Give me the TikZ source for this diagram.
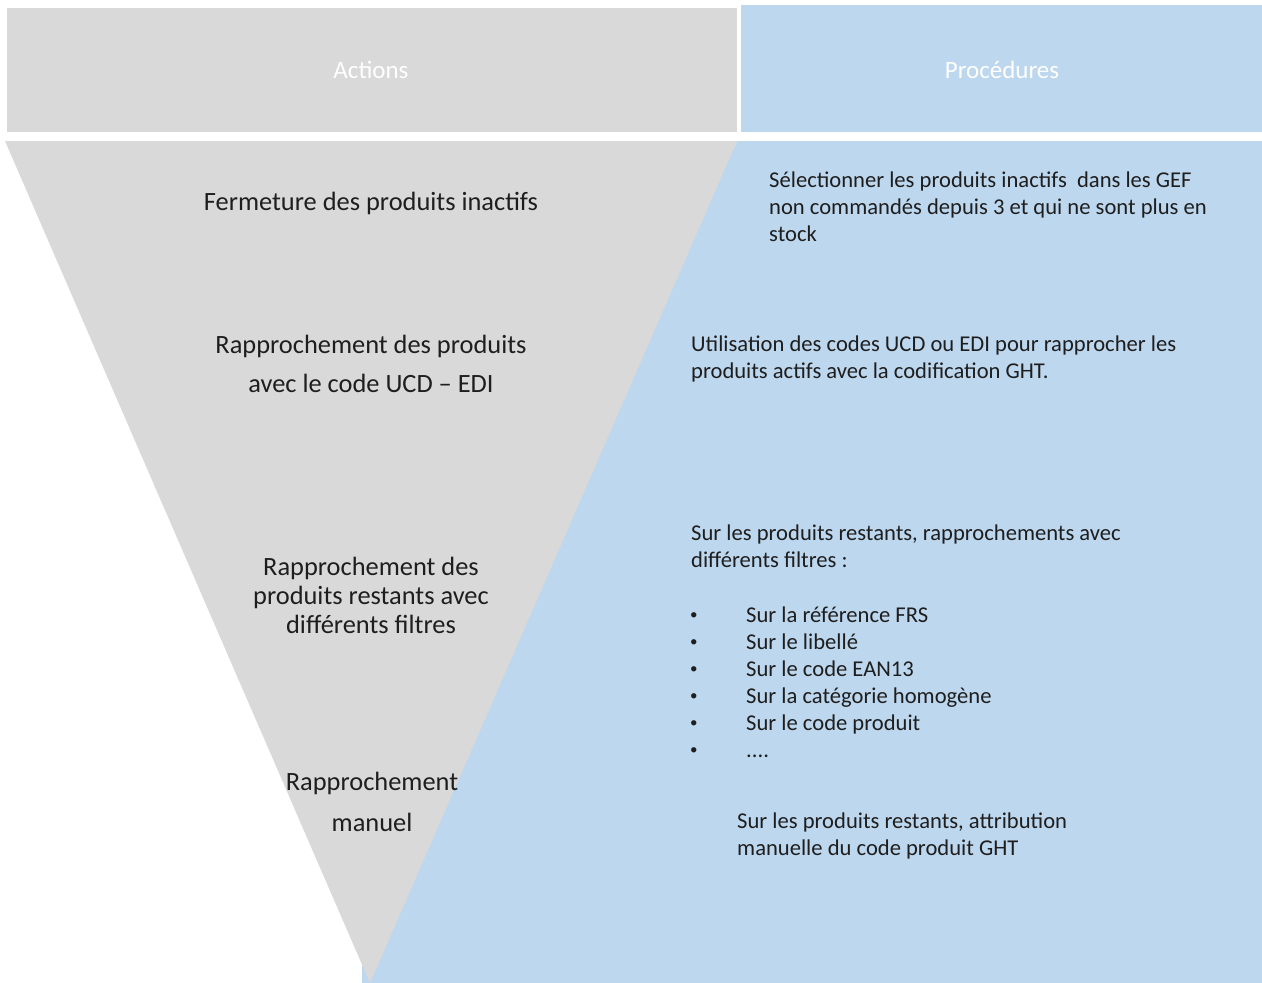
\documentclass[tikz,border=0pt]{standalone}
\usepackage{fontspec}
\setmainfont{Carlito}
\definecolor{actgray}{HTML}{D9D9D9}
\definecolor{procblue}{HTML}{BDD7EE}
\definecolor{ink}{HTML}{1E1E1E}
\newcommand{\puce}{\makebox[57pt][l]{\hspace{1pt}\raisebox{2.5pt}{\fontsize{15}{15}\selectfont•}}}
\begin{document}
\begin{tikzpicture}[x=1pt,y=-1pt]
	\tikzset{head/.style = {text=white,font=\fontsize{25}{30}\selectfont}}
	\tikzset{action/.style = {align=center,text=ink,font=\fontsize{26.4}{#1}\selectfont}}
	\tikzset{proc/.style = {align=left,anchor=north west,inner sep=0pt,text=ink,font=\fontsize{22.6}{27}\selectfont}}
	\useasboundingbox (0,0) rectangle (1262,983);
	\fill[actgray] (7,8) rectangle (737,132);
	\fill[procblue] (741,5) rectangle (1262,132);
	\fill[procblue] (737,141) -- (1262,141) -- (1262,983) -- (362,983) -- (362,960) -- cycle;
	\fill[actgray] (5,141) -- (737,141) -- (370,983) -- cycle;
	\node[head] (actions) at (371,70) {Actions};
	\node[head] (procedures) at (1002,70) {Procédures};
	\node[action=28] (fermeture) at (371,203) {Fermeture des produits inactifs};
	\node[action=39] (ucd) at (371,364) {Rapprochement des produits\\avec le code UCD – EDI};
	\node[action=29] (filtres) at (371,595) {Rapprochement des\\produits restants avec\\différents filtres};
	\node[action=41] (manuel) at (372,802) {Rapprochement\\manuel};
	\node[proc] (selection) at (769,172) {Sélectionner les produits inactifs\ \ dans les GEF\\non commandés depuis 3 et qui ne sont plus en\\stock};
	\node[proc] (codes) at (691,335.5) {Utilisation des codes UCD ou EDI pour rapprocher les\\produits actifs avec la codification GHT.};
	\node[proc] (restants) at (691,524.5) {Sur les produits restants, rapprochements avec\\différents filtres :};
	\node[proc] (liste) at (689,606.5) {\puce Sur la référence FRS\\\puce Sur le libellé\\\puce Sur le code EAN13\\\puce Sur la catégorie homogène\\\puce Sur le code produit\\\puce ....};
	\node[proc] (attribution) at (737,812.5) {Sur les produits restants, attribution\\manuelle du code produit GHT};
\end{tikzpicture}
\end{document}
